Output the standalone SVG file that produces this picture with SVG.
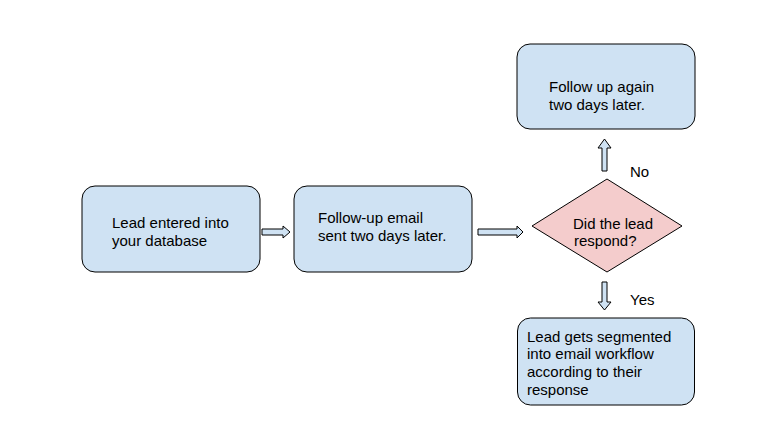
<svg xmlns="http://www.w3.org/2000/svg" width="775" height="433" viewBox="0 0 775 433">
<style>
.box{fill:#cfe2f3;stroke:#000;stroke-width:1}
.dia{fill:#f4cccc;stroke:#000;stroke-width:1}
.arr{fill:#cfe2f3;stroke:#000;stroke-width:1;stroke-linejoin:miter}
text{font-family:"Liberation Sans",Arial,sans-serif;font-size:15px;fill:#000}
</style>
<rect width="775" height="433" fill="#fff"/>
<g id="connectors">
<path class="arr" d="M262,229 H283 V226 L290,232 L283,238 V235 H262 Z"/>
<path class="arr" d="M478,229 H517 V226 L523,232 L517,238 V235 H478 Z"/>
<path class="arr" d="M602,171 V148 H598 L604.5,139 L611,148 H607 V171 Z"/>
<path class="arr" d="M602,282 V302 H598 L604.5,310 L611,302 H607 V282 Z"/>
<text x="630" y="177">No</text>
<text x="630" y="305">Yes</text>
</g>
<g id="lead-entered">
<rect class="box" x="82" y="186" width="178" height="86" rx="13"/>
<text x="112" y="228">Lead entered into</text>
<text x="112" y="246">your database</text>
</g>
<g id="follow-up">
<rect class="box" x="294" y="186" width="178" height="86" rx="13"/>
<text x="318" y="222.5">Follow-up email</text>
<text x="318" y="241">sent two days later.</text>
</g>
<g id="decision">
<polygon class="dia" points="532,226 607,179 682,226 607,272"/>
<text x="573" y="229">Did the lead</text>
<text x="574" y="246">respond?</text>
</g>
<g id="follow-again">
<rect class="box" x="517" y="44" width="178" height="85" rx="13"/>
<text x="549" y="92">Follow up again</text>
<text x="549" y="110">two days later.</text>
</g>
<g id="segmented">
<rect class="box" x="517.5" y="318" width="177" height="87" rx="13"/>
<text x="527" y="341.5">Lead gets segmented</text>
<text x="527" y="359.2">into email workflow</text>
<text x="527" y="376.9">according to their</text>
<text x="527" y="394.6">response</text>
</g>
</svg>
